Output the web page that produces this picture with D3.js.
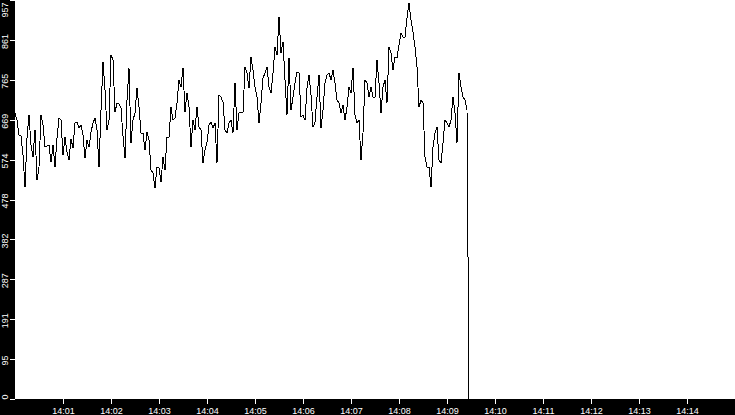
<!DOCTYPE html>
<html>
<head>
<meta charset="utf-8">
<script src="https://cdn.jsdelivr.net/npm/d3@7"></script>
<style>
html,body{margin:0;padding:0;background:#fff;overflow:hidden}
svg{display:block}
</style>
</head>
<body>
<svg id="chart" width="735" height="415"></svg>
<script>
// ---- data ----
const startTime = "14:00:00";
const stepSeconds = 2.5;
const values = [
686,669,633,631,585,508,626,681,609,580,645,525,556,681,657,604,607,609,568,609,
556,626,674,669,585,628,592,573,624,602,662,664,650,657,633,578,621,604,640,662,
674,645,556,693,808,741,645,669,825,813,688,710,708,698,630,578,717,794,
614,669,686,746,700,638,638,597,640,621,549,542,506,556,554,520,580,549,628,628,
700,669,674,710,765,748,794,688,734,700,604,669,645,700,652,645,566,597,616,657,
664,650,662,566,729,724,712,645,638,662,669,638,758,645,686,688,
686,796,782,746,820,789,748,724,662,710,770,782,796,748,734,782,844,825,916,830,
856,765,681,818,693,724,758,784,782,676,681,669,746,777,729,652,664,724,777,650,
693,758,777,782,765,789,758,717,710,686,705,669,700,748,734,794,681,
662,669,573,638,765,758,724,748,724,724,813,758,686,748,765,710,844,830,789,820,
818,849,878,868,868,914,950,909,880,844,796,700,717,710,580,556,556,508,604,638,
652,573,566,614,669,662,652,669,724,686,614,782,748,724,717,693,
0
];
const xTickLabels = ["14:01","14:02","14:03","14:04","14:05","14:06","14:07","14:08","14:09","14:10","14:11","14:12","14:13","14:14"];
const yTickLabels = ["0","95","191","287","382","478","574","669","765","861","957"];
const yMax = 957;
const xDomain = ["14:00","14:15"];

// ---- layout ----
const W = 735, H = 415;
const left = 15, bottom = 399;
const svg = d3.select("#chart");
const font = "'Liberation Sans', Arial, sans-serif";

const parseHM = d3.timeParse("%H:%M");
const parseHMS = d3.timeParse("%H:%M:%S");
const t0 = parseHMS(startTime);
const data = values.map((v, i) => ({t: new Date(+t0 + i * stepSeconds * 1000), v}));

const x = d3.scaleTime().domain(xDomain.map(parseHM)).range([left, W]);
const y = d3.scaleLinear().domain([0, yMax]).range([bottom, 0]);

// background bands
svg.append("rect").attr("x", 0).attr("y", 0).attr("width", W).attr("height", H).attr("fill", "#fff");
svg.append("rect").attr("x", 0).attr("y", 0).attr("width", left).attr("height", H).attr("fill", "#000");
svg.append("rect").attr("x", 0).attr("y", bottom).attr("width", W).attr("height", H - bottom).attr("fill", "#000");

// line
const line = d3.line().x(d => x(d.t)).y(d => y(d.v));
svg.append("path").datum(data)
  .attr("d", line)
  .attr("fill", "none")
  .attr("stroke", "#000")
  .attr("stroke-width", 1)
  .attr("shape-rendering", "crispEdges");

// x axis
const xAxis = d3.axisBottom(x)
  .tickValues(xTickLabels.map(parseHM))
  .tickFormat((d, i) => xTickLabels[i])
  .tickSize(5).tickPadding(3);
const gx = svg.append("g").attr("transform", `translate(0,${bottom})`).call(xAxis);
gx.select(".domain").remove();
gx.selectAll(".tick line").attr("stroke", "#fff").attr("shape-rendering", "crispEdges");
gx.selectAll(".tick text").attr("fill", "#fff").attr("font-family", font).attr("font-size", 9)
  .attr("dy", null).attr("y", 14.5);

// y axis
const yTickValues = yTickLabels.map((s, i) => i * yMax / (yTickLabels.length - 1));
const yAxis = d3.axisLeft(y)
  .tickValues(yTickValues)
  .tickFormat((d, i) => yTickLabels[i])
  .tickSize(5);
const gy = svg.append("g").attr("transform", `translate(${left},0)`).call(yAxis);
gy.select(".domain").remove();
gy.selectAll(".tick line").attr("stroke", "#fff").attr("shape-rendering", "crispEdges");
gy.selectAll(".tick text")
  .attr("fill", "#fff").attr("font-family", font).attr("font-size", 9)
  .attr("x", null).attr("dy", null).attr("text-anchor", "middle")
  .each(function(d) {
    const len = this.getComputedTextLength();
    const ty = y(d);
    let c = ty + 1;
    if (c - len / 2 < 2) c = 2 + len / 2;
    if (c + len / 2 > bottom) c = bottom - len / 2;
    d3.select(this).attr("transform", `translate(-7,${c - ty}) rotate(-90)`);
  });
</script>
</body>
</html>
